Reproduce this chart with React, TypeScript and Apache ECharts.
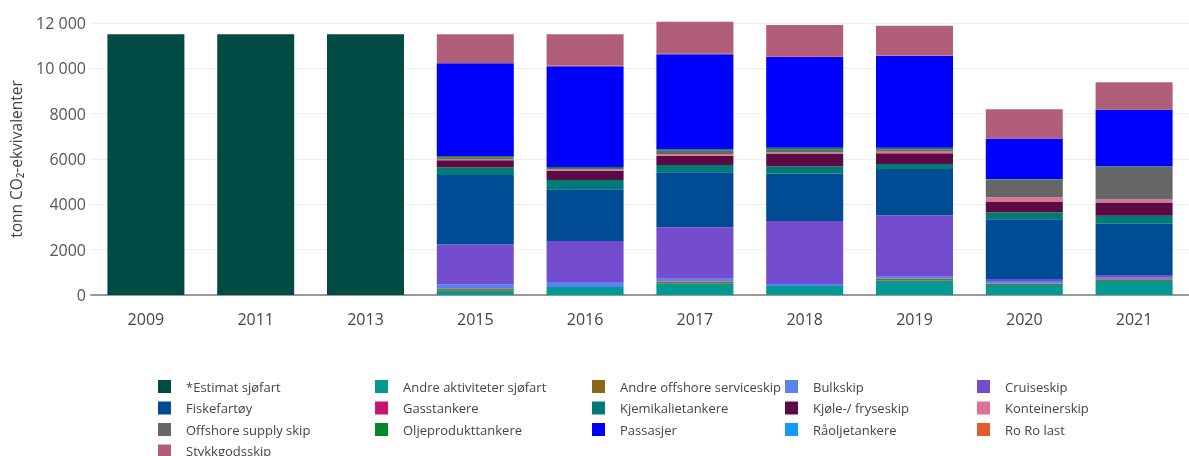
import React, { useEffect, useRef } from "react";
import * as echarts from "echarts";

const years = ["2009", "2011", "2013", "2015", "2016", "2017", "2018", "2019", "2020", "2021"];

const estimat = [11500, 11500, 11500, null, null, null, null, null, null, null];
const andreAktiviteter = [null, null, null, 190, 350, 500, 400, 630, 440, 620];
const andreOffshore = [null, null, null, 90, 0, 90, 0, 90, 60, 70];
const bulkskip = [null, null, null, 190, 220, 130, 85, 120, 120, 70];
const cruiseskip = [null, null, null, 1760, 1810, 2265, 2780, 2680, 85, 120];
const fiskefartoy = [null, null, null, 3060, 2280, 2427, 2100, 2040, 2635, 2265];
const gasstankere = [null, null, null, 0, 0, 0, 0, 0, 0, 0];
const kjemikalietankere = [null, null, null, 340, 410, 323, 320, 220, 310, 350];
const kjoleFryseskip = [null, null, null, 320, 410, 412, 560, 470, 470, 590];
const konteinerskip = [null, null, null, 40, 60, 70, 40, 100, 190, 130];
const offshoreSupply = [null, null, null, 90, 60, 150, 120, 70, 790, 1440];
const oljeprodukttankere = [null, null, null, 50, 50, 60, 90, 80, 20, 20];
const passasjer = [null, null, null, 4090, 4440, 4190, 4015, 4040, 1780, 2510];
const raoljetankere = [null, null, null, 0, 0, 0, 0, 0, 0, 0];
const roRoLast = [null, null, null, 20, 30, 30, 30, 30, 10, 20];
const stykkgodsskip = [null, null, null, 1260, 1380, 1410, 1370, 1310, 1280, 1180];

const seriesNames = [
  "*Estimat sjøfart",
  "Andre aktiviteter sjøfart",
  "Andre offshore serviceskip",
  "Bulkskip",
  "Cruiseskip",
  "Fiskefartøy",
  "Gasstankere",
  "Kjemikalietankere",
  "Kjøle-/ fryseskip",
  "Konteinerskip",
  "Offshore supply skip",
  "Oljeprodukttankere",
  "Passasjer",
  "Råoljetankere",
  "Ro Ro last",
  "Stykkgodsskip",
];

const seriesData = [
  estimat,
  andreAktiviteter,
  andreOffshore,
  bulkskip,
  cruiseskip,
  fiskefartoy,
  gasstankere,
  kjemikalietankere,
  kjoleFryseskip,
  konteinerskip,
  offshoreSupply,
  oljeprodukttankere,
  passasjer,
  raoljetankere,
  roRoLast,
  stykkgodsskip,
];

const seriesColors = [
  "#004C45",
  "#009A93",
  "#866A1A",
  "#5A83EE",
  "#744DCE",
  "#004C94",
  "#C8146E",
  "#007A74",
  "#5C0A43",
  "#DF7194",
  "#666666",
  "#008A2E",
  "#0000FF",
  "#1499FF",
  "#E35B2C",
  "#B05E79",
];

const FONT = "'Open Sans', 'Noto Sans', sans-serif";

function formatNo(v: number): string {
  if (v >= 10000) {
    const s = String(v);
    return s.slice(0, s.length - 3) + " " + s.slice(s.length - 3);
  }
  return String(v);
}

export default function App() {
  const ref = useRef<HTMLDivElement>(null);

  useEffect(() => {
    if (!ref.current) return;
    const chart = echarts.init(ref.current, undefined, { renderer: "svg" });

    const colX = [153, 370, 587, 780, 972];
    const legends = colX.map((x, c) => ({
      orient: "vertical" as const,
      left: x,
      top: 375,
      height: 150,
      itemWidth: 13,
      itemHeight: 13,
      itemGap: 8.5,
      icon: "rect",
      selectedMode: false,
      data: seriesNames.filter((_, i) => i % 5 === c),
      textStyle: {
        fontFamily: FONT,
        fontSize: 13,
        lineHeight: 13,
        color: "#444",
        padding: [0, 0, 0, 10],
      },
    }));

    chart.setOption({
      animation: false,
      color: seriesColors,
      textStyle: { fontFamily: FONT },
      legend: legends,
      grid: { left: 87, top: 23, width: 1111, height: 272, containLabel: false },
      xAxis: {
        type: "category",
        data: years,
        axisLine: { lineStyle: { color: "#999", width: 2 } },
        axisTick: { show: false },
        axisLabel: { fontFamily: FONT, fontSize: 16, color: "#444", margin: 16 },
      },
      yAxis: {
        type: "value",
        min: 0,
        max: 12000,
        interval: 2000,
        name: "tonn CO₂-ekvivalenter",
        nameLocation: "middle",
        nameGap: 67,
        nameTextStyle: { fontFamily: FONT, fontSize: 15.5, color: "#444" },
        axisLine: { show: false },
        axisTick: { show: false },
        splitLine: { lineStyle: { color: "#eeeeee", width: 1 } },
        axisLabel: {
          fontFamily: FONT,
          fontSize: 16,
          color: "#555",
          margin: 5,
          formatter: (v: number) => formatNo(v),
        },
      },
      series: seriesNames.map((name, i) => ({
        name,
        type: "bar",
        stack: "total",
        barWidth: 77,
        clip: false,
        data: seriesData[i],
        itemStyle: { color: seriesColors[i] },
      })),
    });

    return () => chart.dispose();
  }, []);

  return (
    <div
      ref={ref}
      style={{ position: "fixed", left: 0, top: 0, width: 1189, height: 456 }}
    />
  );
}
